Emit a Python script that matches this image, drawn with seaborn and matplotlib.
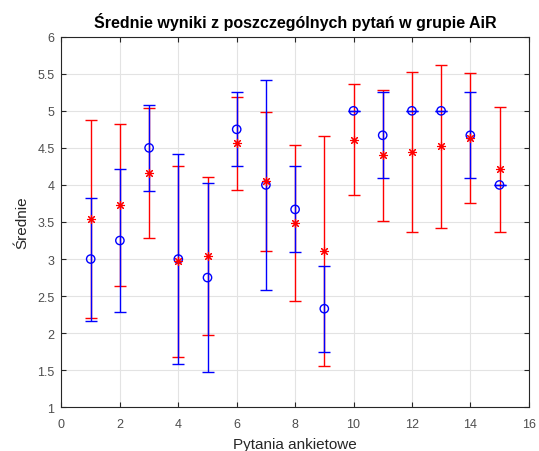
import numpy as np
import matplotlib
matplotlib.use('Agg')
import matplotlib.pyplot as plt
import seaborn as sns

# data
pytania = [1, 2, 3, 4, 5, 6, 7, 8, 9, 10, 11, 12, 13, 14, 15]
srednia_niebieska = [3.0, 3.25, 4.5, 3.0, 2.75, 4.75, 4.0, 3.67, 2.33, 5.0, 4.67, 5.0, 5.0, 4.67, 4.0]
blad_niebieski = [0.83, 0.97, 0.58, 1.42, 1.27, 0.5, 1.42, 0.58, 0.58, 0.0, 0.58, 0.0, 0.0, 0.58, 0.0]
srednia_czerwona = [3.54, 3.73, 4.16, 2.97, 3.04, 4.56, 4.05, 3.49, 3.11, 4.61, 4.4, 4.45, 4.52, 4.63, 4.21]
blad_czerwony = [1.33, 1.09, 0.88, 1.29, 1.07, 0.63, 0.94, 1.05, 1.55, 0.75, 0.88, 1.08, 1.1, 0.88, 0.84]

x_ticks = [0, 2, 4, 6, 8, 10, 12, 14, 16]
y_ticks = [1, 1.5, 2, 2.5, 3, 3.5, 4, 4.5, 5, 5.5, 6]
y_labels = ['1', '1.5', '2', '2.5', '3', '3.5', '4', '4.5', '5', '5.5', '6']

sns.set_style('ticks')
plt.rcParams['font.family'] = ['Liberation Sans', 'DejaVu Sans']

fig = plt.figure(figsize=(5.39, 4.52), dpi=100)
ax = fig.add_axes([0.1141, 0.0967, 0.8668, 0.8199])

# error bars: red first, blue lines on top, red asterisks on top of everything
ax.errorbar(pytania, srednia_czerwona, yerr=blad_czerwony, fmt='none',
            ecolor='red', elinewidth=1, capsize=4.5, capthick=1, zorder=2)
ax.errorbar(pytania, srednia_niebieska, yerr=blad_niebieski, fmt='none',
            ecolor='blue', elinewidth=1, capsize=4.5, capthick=1, zorder=3)

sns.scatterplot(x=pytania, y=srednia_niebieska, ax=ax, marker='o', s=36,
                facecolor='none', edgecolor='blue', linewidth=1, zorder=4)
ax.plot(pytania, srednia_czerwona, linestyle='none', marker=(8, 2, 0),
        markersize=6.5, color='red', markeredgewidth=0.8, zorder=5)

ax.set_xlim(0, 16)
ax.set_ylim(1, 6)
ax.set_xticks(x_ticks)
ax.set_yticks(y_ticks)
ax.set_yticklabels(y_labels)
ax.grid(True, color='#e3e3e3', linewidth=0.8)
ax.set_axisbelow(True)

for s in ax.spines.values():
    s.set_visible(True)
    s.set_color('#262626')
    s.set_linewidth(0.8)
ax.tick_params(direction='in', top=True, right=True, length=3.5, width=0.8,
               colors='#262626', labelsize=9, labelcolor='#4d4d4d')
ax.tick_params(axis='x', pad=8)
ax.tick_params(axis='y', pad=5)

ax.set_title('Średnie wyniki z poszczególnych pytań w grupie AiR',
             fontsize=11.5, fontweight='bold', pad=7, color='black')
ax.set_xlabel('Pytania ankietowe', fontsize=11, color='#262626', labelpad=4.5)
ax.set_ylabel('Średnie', fontsize=11, color='#262626', labelpad=6)

fig.savefig('out.png', dpi=100)
